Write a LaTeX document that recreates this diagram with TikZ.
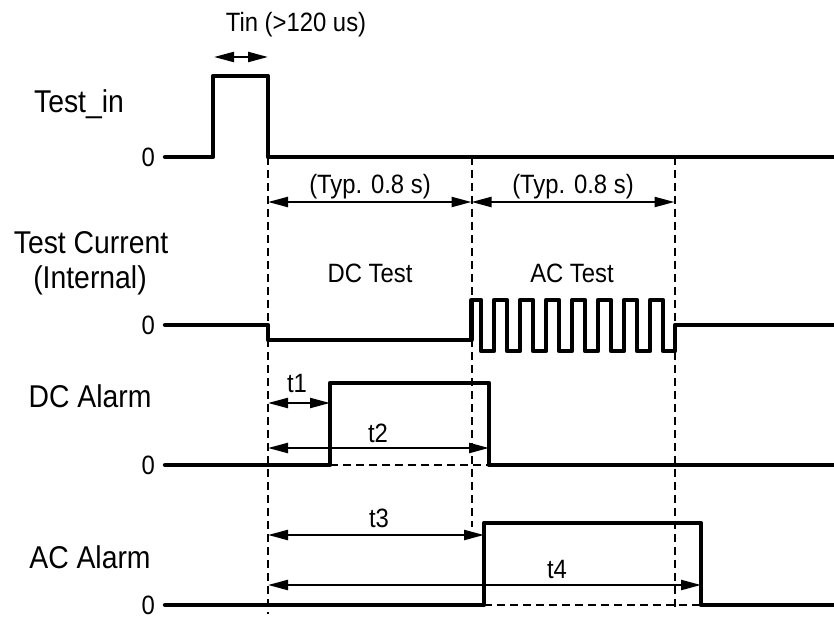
\documentclass[tikz,border=0pt]{standalone}
\usepackage{fontspec}
\setmainfont{Liberation Sans}[FakeStretch=0.9]
\usetikzlibrary{arrows.meta}
\begin{document}
\begin{tikzpicture}[x=1pt,y=-1pt,
  sig/.style={line width=4.3pt, line cap=round, line join=round},
  guide/.style={line width=2pt, dash pattern=on 8pt off 5pt},
  dim/.style={line width=2.2pt, {Triangle[length=20pt,width=10pt]}-{Triangle[length=20pt,width=10pt]}},
  small/.style={font=\fontsize{26.5}{30}\selectfont, inner sep=0pt},
  big/.style={font=\fontsize{31.5}{36}\selectfont, inner sep=0pt},
  zero/.style={font=\fontsize{26.5}{30}\selectfont, inner sep=0pt, anchor=east},
]
\useasboundingbox (0,0) rectangle (834,617);

% key coordinates
\coordinate (A) at (268,157);   % Test_in falling edge
\coordinate (B) at (471.5,157); % DC/AC boundary
\coordinate (C) at (674.5,157); % AC end

% guide lines
\draw[guide] (A) -- (268,614);
\draw[guide] (B) -- (471.5,527);
\draw[guide] (C) -- (674.5,607);
\draw[guide] (330,465) -- (489,465);
\draw[guide] (484,605) -- (701,605);

% Test_in
\coordinate (tiS) at (165,157);
\coordinate (tiE) at (834,157);
\draw[sig] (tiS) -- (213,157) -- (213,76) -- (268,76) -- (A) -- (tiE);

% Test current
\coordinate (tcS) at (165,325);
\coordinate (tcE) at (834,325);
\draw[sig] (tcS) -- (268,325) -- (268,340) -- (471.5,340) -- (471.5,300) -- (481,300)
  \foreach \u in {494,520,546,572,598,624,650} { -- (\u-13,351) -- (\u,351) -- (\u,300) -- (\u+13,300) }
  -- (663,351) -- (675,351) -- (675,325) -- (tcE);

% DC alarm
\coordinate (daS) at (165,465);
\coordinate (daE) at (834,465);
\coordinate (daR) at (330,465);
\coordinate (daF) at (489,465);
\draw[sig] (daS) -- (daR) -- (330,383) -- (489,383) -- (daF) -- (daE);

% AC alarm
\coordinate (aaS) at (165,605);
\coordinate (aaE) at (834,605);
\coordinate (aaR) at (484,605);
\coordinate (aaF) at (701,605);
\draw[sig] (aaS) -- (aaR) -- (484,523) -- (701,523) -- (aaF) -- (aaE);

% dimension arrows
\coordinate (tinL) at (214,57);
\coordinate (tinR) at (268,57);
\draw[dim] (tinL) -- (tinR);
\draw[dim] (268,202) -- (471.5,202);
\draw[dim] (471.5,202) -- (674.5,202);
\draw[dim] (268,403) -- (330,403);
\draw[dim] (268,448) -- (489,448);
\draw[dim] (268,535) -- (484,535);
\draw[dim] (268,585) -- (701,585);

% texts
\node[small, anchor=base] (tin) at (296,32) {Tin (>120 us)};
\node[small, anchor=base] (typ1) at (370,194) {(Typ. 0.8 s)};
\node[small, anchor=base] (typ2) at (573,194) {(Typ. 0.8 s)};
\node[small, anchor=base] (dct) at (370,283) {DC Test};
\node[small, anchor=base] (act) at (572,283) {AC Test};
\node[small, anchor=base] (t1) at (297,392) {t1};
\node[small, anchor=base] (t2) at (378,442) {t2};
\node[small, anchor=base] (t3) at (379,527) {t3};
\node[small, anchor=base] (t4) at (557,578) {t4};

\node[big, anchor=base] (l1) at (79,113) {Test\_in};
\node[big, anchor=base] (l2a) at (91,254) {Test Current};
\node[big, anchor=base] (l2b) at (90,288) {(Internal)};
\node[big, anchor=base] (l3) at (90,407) {DC Alarm};
\node[big, anchor=base] (l4) at (90,568) {AC Alarm};

\node[zero] (z1) at (155,157) {0};
\node[zero] (z2) at (155,325) {0};
\node[zero] (z3) at (155,465) {0};
\node[zero] (z4) at (155,605) {0};
\end{tikzpicture}
\end{document}
